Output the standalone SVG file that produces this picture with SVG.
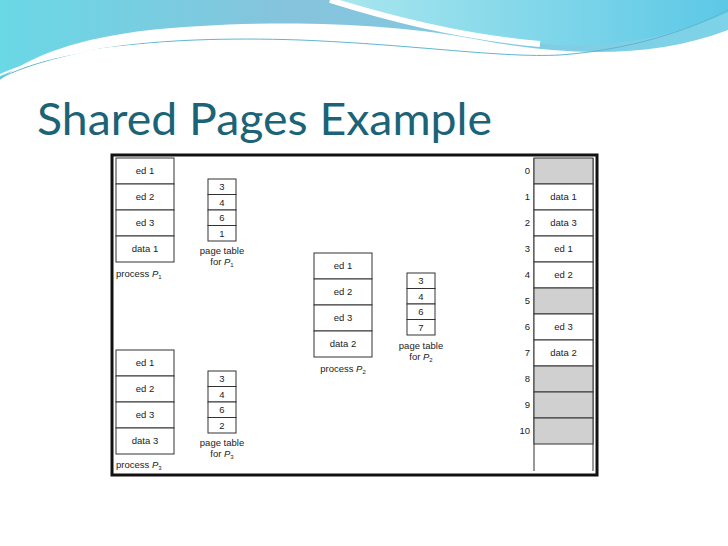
<svg xmlns="http://www.w3.org/2000/svg" width="728" height="546" viewBox="0 0 728 546">
<defs>
<linearGradient id="wv" x1="0" y1="0" x2="1" y2="0"><stop offset="0" stop-color="#6ad8e6"/><stop offset="0.4" stop-color="#86c3dc"/><stop offset="1" stop-color="#7dd3e8"/></linearGradient>
<linearGradient id="wv2" x1="0" y1="0" x2="1" y2="0"><stop offset="0" stop-color="#a8e6ee"/><stop offset="1" stop-color="#5cc8e6"/></linearGradient>
</defs>
<style>
.c{fill:#fff;stroke:#333;stroke-width:1}
.g{fill:#d0d0d0;stroke:#333;stroke-width:1}
.t{font-family:"Liberation Sans",Arial,sans-serif;font-size:9.5px;fill:#222;text-anchor:middle}
.n{font-family:"Liberation Sans",Arial,sans-serif;font-size:9.5px;fill:#222;text-anchor:end}
</style>
<rect width="728" height="546" fill="#fff"/>
<path d="M0,0 H728 V30 C650,60 560,55 480,40 C380,20 250,20 150,30 C80,38 30,55 0,80 Z" fill="url(#wv)"/>
<path d="M340,0 C420,25 480,40 560,45 C630,48 690,30 728,12 V0 Z" fill="url(#wv2)"/>
<path d="M330,0 C400,22 470,38 540,44" fill="none" stroke="#fff" stroke-width="6"/>
<path d="M0,78 C60,50 150,35 300,40 C420,45 500,58 560,55 C630,50 690,30 728,10" fill="none" stroke="#5fb6d0" stroke-width="1"/>
<path d="M0,75 C60,48 160,38 300,43 C420,48 500,60 560,57" fill="none" stroke="#fff" stroke-width="2"/>
<text x="37" y="135" font-family="Lato,'Open Sans',sans-serif" font-size="45" fill="#1b6478" textLength="455" lengthAdjust="spacingAndGlyphs">Shared Pages Example</text>
<rect x="112" y="155" width="485" height="320" fill="#fff" stroke="#111" stroke-width="3"/>
<g id="p1">
<rect class="c" x="116" y="158" width="58" height="26"/><text class="t" x="145" y="174">ed 1</text>
<rect class="c" x="116" y="184" width="58" height="26"/><text class="t" x="145" y="200">ed 2</text>
<rect class="c" x="116" y="210" width="58" height="26"/><text class="t" x="145" y="226">ed 3</text>
<rect class="c" x="116" y="236" width="58" height="26"/><text class="t" x="145" y="252">data 1</text>
<text x="116" y="277" font-family="Liberation Sans,sans-serif" font-size="9.5" fill="#222">process <tspan font-style="italic">P</tspan><tspan font-size="6" dy="2">1</tspan></text>
</g>
<g id="pt1">
<rect class="c" x="208" y="179" width="28" height="15.5"/><text class="t" x="222" y="190">3</text>
<rect class="c" x="208" y="194.5" width="28" height="15.5"/><text class="t" x="222" y="205.5">4</text>
<rect class="c" x="208" y="210" width="28" height="15.5"/><text class="t" x="222" y="221">6</text>
<rect class="c" x="208" y="225.5" width="28" height="15.5"/><text class="t" x="222" y="236.5">1</text>
<text class="t" x="222" y="254">page table</text>
<text class="t" x="222" y="265">for <tspan font-style="italic">P</tspan><tspan font-size="6" dy="2">1</tspan></text>
</g>
<g id="p2">
<rect class="c" x="314" y="253" width="58" height="26"/><text class="t" x="343" y="269">ed 1</text>
<rect class="c" x="314" y="279" width="58" height="26"/><text class="t" x="343" y="295">ed 2</text>
<rect class="c" x="314" y="305" width="58" height="26"/><text class="t" x="343" y="321">ed 3</text>
<rect class="c" x="314" y="331" width="58" height="26"/><text class="t" x="343" y="347">data 2</text>
<text class="t" x="343" y="372">process <tspan font-style="italic">P</tspan><tspan font-size="6" dy="2">2</tspan></text>
</g>
<g id="pt2">
<rect class="c" x="407" y="273" width="28" height="15.5"/><text class="t" x="421" y="284">3</text>
<rect class="c" x="407" y="288.5" width="28" height="15.5"/><text class="t" x="421" y="299.5">4</text>
<rect class="c" x="407" y="304" width="28" height="15.5"/><text class="t" x="421" y="315">6</text>
<rect class="c" x="407" y="319.5" width="28" height="15.5"/><text class="t" x="421" y="330.5">7</text>
<text class="t" x="421" y="349">page table</text>
<text class="t" x="421" y="360">for <tspan font-style="italic">P</tspan><tspan font-size="6" dy="2">2</tspan></text>
</g>
<g id="p3">
<rect class="c" x="116" y="350" width="58" height="26"/><text class="t" x="145" y="366">ed 1</text>
<rect class="c" x="116" y="376" width="58" height="26"/><text class="t" x="145" y="392">ed 2</text>
<rect class="c" x="116" y="402" width="58" height="26"/><text class="t" x="145" y="418">ed 3</text>
<rect class="c" x="116" y="428" width="58" height="26"/><text class="t" x="145" y="444">data 3</text>
<text x="116" y="468" font-family="Liberation Sans,sans-serif" font-size="9.5" fill="#222">process <tspan font-style="italic">P</tspan><tspan font-size="6" dy="2">3</tspan></text>
</g>
<g id="pt3">
<rect class="c" x="208" y="371" width="28" height="15.5"/><text class="t" x="222" y="382">3</text>
<rect class="c" x="208" y="386.5" width="28" height="15.5"/><text class="t" x="222" y="397.5">4</text>
<rect class="c" x="208" y="402" width="28" height="15.5"/><text class="t" x="222" y="413">6</text>
<rect class="c" x="208" y="417.5" width="28" height="15.5"/><text class="t" x="222" y="428.5">2</text>
<text class="t" x="222" y="446">page table</text>
<text class="t" x="222" y="457">for <tspan font-style="italic">P</tspan><tspan font-size="6" dy="2">3</tspan></text>
</g>
<g id="memory">
<line x1="534" y1="158" x2="534" y2="471" stroke="#333"/>
<line x1="593" y1="158" x2="593" y2="471" stroke="#333"/>
<rect class="g" x="534" y="158" width="59" height="26"/>
<rect class="c" x="534" y="184" width="59" height="26"/><text class="t" x="563.5" y="200">data 1</text>
<rect class="c" x="534" y="210" width="59" height="26"/><text class="t" x="563.5" y="226">data 3</text>
<rect class="c" x="534" y="236" width="59" height="26"/><text class="t" x="563.5" y="252">ed 1</text>
<rect class="c" x="534" y="262" width="59" height="26"/><text class="t" x="563.5" y="278">ed 2</text>
<rect class="g" x="534" y="288" width="59" height="26"/>
<rect class="c" x="534" y="314" width="59" height="26"/><text class="t" x="563.5" y="330">ed 3</text>
<rect class="c" x="534" y="340" width="59" height="26"/><text class="t" x="563.5" y="356">data 2</text>
<rect class="g" x="534" y="366" width="59" height="26"/>
<rect class="g" x="534" y="392" width="59" height="26"/>
<rect class="g" x="534" y="418" width="59" height="26"/>
<text class="n" x="530" y="174">0</text><text class="n" x="530" y="200">1</text><text class="n" x="530" y="226">2</text><text class="n" x="530" y="252">3</text><text class="n" x="530" y="278">4</text><text class="n" x="530" y="304">5</text><text class="n" x="530" y="330">6</text><text class="n" x="530" y="356">7</text><text class="n" x="530" y="382">8</text><text class="n" x="530" y="408">9</text><text class="n" x="530" y="434">10</text>
</g>
<g id="connectors"/>
</svg>
